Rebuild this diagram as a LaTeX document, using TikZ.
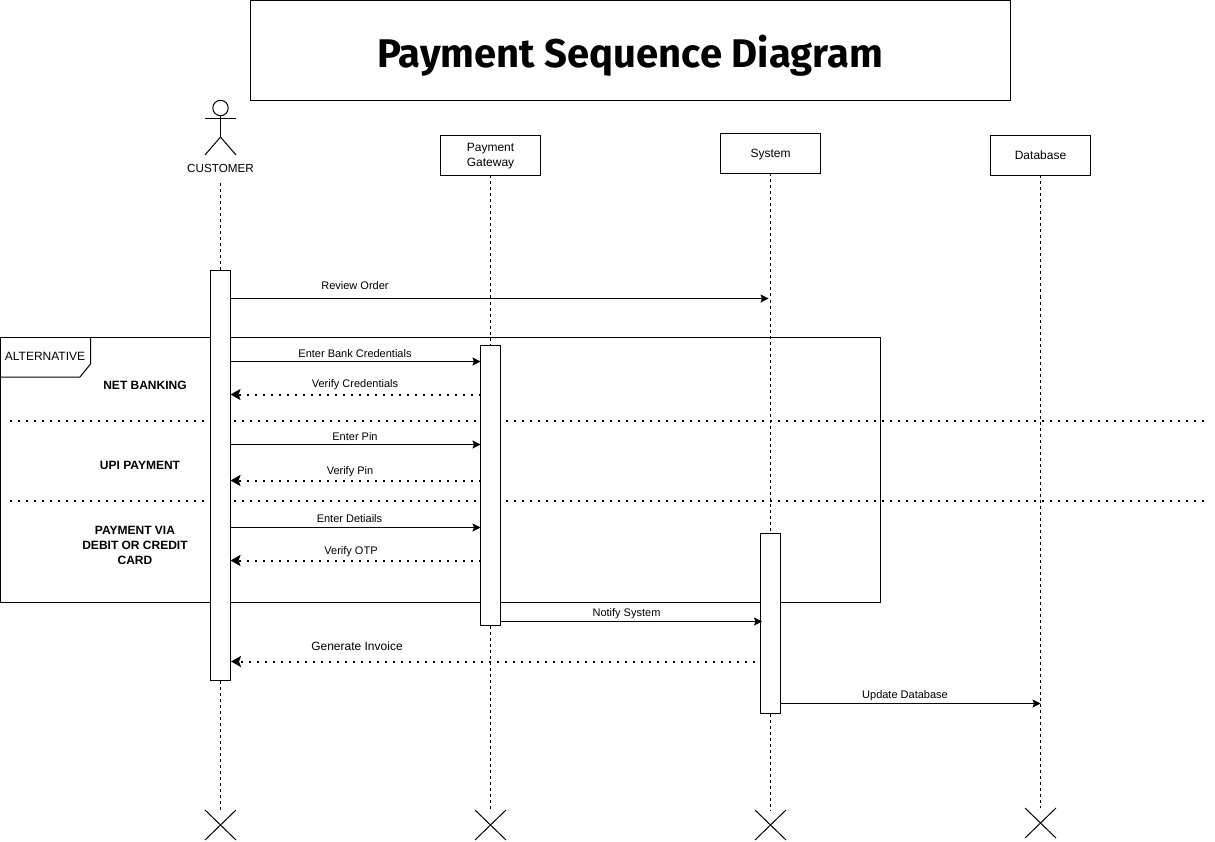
\documentclass[tikz,border=0pt]{standalone}
\usepackage{fontspec}
\setmainfont{Liberation Sans}
\newfontfamily\titlefont{Fira Sans}
\usetikzlibrary{arrows.meta,shapes.misc}
\tikzset{
  every node/.style={outer sep=0pt,inner sep=0pt,font=\fontsize{12}{15}\selectfont},
  box/.style={draw=black,fill=white,line width=1pt,minimum width=100pt,minimum height=40pt},
  boxtext/.style={align=center},
  bar/.style={draw=black,fill=white,line width=1pt,minimum width=20pt},
  life/.style={line width=1pt,dash pattern=on 3pt off 3pt},
  kill/.style={draw=black,line width=1pt,cross out,minimum width=31pt,minimum height=30pt},
  msg/.style={line width=1pt,-{Stealth[length=8pt,width=8pt,inset=1.5pt]}},
  ret/.style={line width=2pt,dash pattern=on 2pt off 6pt,-{Stealth[length=10pt,width=11pt,inset=2pt]}},
  sep/.style={line width=2pt,dash pattern=on 2pt off 6pt},
  lab/.style={font=\fontsize{11}{14}\selectfont},
  sect/.style={font=\bfseries\fontsize{12}{15}\selectfont,align=center},
}
\begin{document}
\begin{tikzpicture}[x=1pt,y=-1pt]
\useasboundingbox (0,0) rectangle (1215,842);
% title
\node[box,minimum width=760pt,minimum height=100pt] (title) at (630.5,50.5) {};
\node[font=\titlefont\bfseries\fontsize{40}{44}\selectfont] (titletext) at (630,56) {Payment Sequence Diagram};
% frame
\node[draw=black,line width=1pt,minimum width=880pt,minimum height=265pt] (frame) at (440.5,469.5) {};
\draw[line width=1pt] (frame.north west) ++(90,0) coordinate (t1) -- ++(0,27) coordinate (t2) -- ++(-10.5,13) coordinate (t3) -- (frame.west |- t3);
\node (alt) at (45,356) {ALTERNATIVE};
% actor
\draw[line width=1pt] (220.5,108) circle (7.7pt);
\draw[line width=1pt] (205,119) -- (236,119);
\draw[line width=1pt] (220.5,116) -- (220.5,137) coordinate (hip);
\draw[line width=1pt] (205,155) -- (hip) -- (236,155);
\node[font=\fontsize{11.7}{14}\selectfont] (cust) at (220.5,168) {CUSTOMER};
\node[box] (pg) at (490.5,155.5) {};
\node[box] (sys) at (770.5,153.5) {};
\node[box] (db) at (1040.5,155.5) {};
\node[boxtext] (pgt) at (490.5,156.5) {Payment\\Gateway};
\node[boxtext] (syst) at (770.5,154.5) {System};
\node[boxtext] (dbt) at (1040.5,155.5) {Database};
% ends
\node[kill] (xc) at (220.5,825) {};
\node[kill] (xp) at (490.5,825) {};
\node[kill] (xs) at (770.5,825) {};
\node[kill] (xd) at (1040.5,823) {};
% lifelines
\coordinate (cs) at (220.5,183);
\draw[life] (cs) -- (xc.north);
\draw[life] (pg.south) -- (xp.north);
\draw[life] (sys.south) -- (xs.north);
\draw[life] (db.south) -- (xd.north);
% separators
\coordinate (s1a) at (10,420.5); \coordinate (s1b) at (1206,420.5);
\coordinate (s2a) at (10,500.5); \coordinate (s2b) at (1206,500.5);
\draw[sep] (s1a) -- (s1b);
\draw[sep] (s2a) -- (s2b);
% activation bars
\node[bar,minimum height=410pt] (cbar) at (220.5,475.5) {};
\node[bar,minimum height=280pt] (pbar) at (490.5,485.5) {};
\node[bar,minimum height=180pt] (sbar) at (770.5,623) {};
% message levels
\coordinate (m1) at (0,298.5);
\coordinate (m2) at (0,361.5);
\coordinate (m3) at (0,394.5);
\coordinate (m4) at (0,444.5);
\coordinate (m5) at (0,480.5);
\coordinate (m6) at (0,527.5);
\coordinate (m7) at (0,560.5);
\coordinate (m8) at (0,621.5);
\coordinate (m10) at (0,703.5);
\coordinate (e1) at (768.5,298.5);
\coordinate (e8) at (762,621.5);
\coordinate (s9) at (755,661.5);
\coordinate (e9) at (231,661.5);
\draw[msg] (cbar.east |- m1) -- (e1);
\draw[msg] (cbar.east |- m2) -- (pbar.west |- m2);
\draw[ret] (pbar.west |- m3) -- (cbar.east |- m3);
\draw[msg] (cbar.east |- m4) -- (pbar.west |- m4);
\draw[ret] (pbar.west |- m5) -- (cbar.east |- m5);
\draw[msg] (cbar.east |- m6) -- (pbar.west |- m6);
\draw[ret] (pbar.west |- m7) -- (cbar.east |- m7);
\draw[msg] (pbar.east |- m8) -- (e8);
\draw[ret] (s9) -- (e9);
\draw[msg] (sbar.east |- m10) -- (db.south |- m10);
% labels
\node[lab] (l1) at (355,286) {Review Order};
\node[lab] (l2) at (355,353.5) {Enter Bank Credentials};
\node[lab] (l3) at (355,385) {Verify Credentials};
\node[lab] (l4) at (355,436.5) {Enter Pin};
\node[lab] (l5) at (350,472) {Verify Pin};
\node[lab] (l6) at (349.5,518.5) {Enter Detiails};
\node[lab] (l7) at (351,551.5) {Verify OTP};
\node[lab] (l8) at (626.5,614) {Notify System};
\node[font=\fontsize{12}{14}\selectfont] (l9) at (357,646) {Generate Invoice};
\node[lab] (l10) at (905,696) {Update Database};
\node[sect] (n1) at (145,385) {NET BANKING};
\node[sect] (n2) at (140,465) {UPI PAYMENT};
\node[sect] (n3) at (135,545) {PAYMENT VIA\\DEBIT OR CREDIT\\CARD};
\end{tikzpicture}
\end{document}
